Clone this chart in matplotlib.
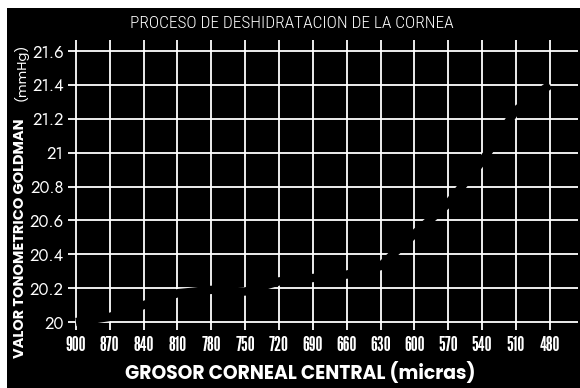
import matplotlib
matplotlib.use("Agg")
import matplotlib.pyplot as plt
from matplotlib.patches import Rectangle

# ---- data ----
grosor = [900, 870, 840, 810, 780, 750, 720, 690, 660, 630, 600, 570, 540, 510, 480]
presion = [20.0, 20.03, 20.1, 20.17, 20.19, 20.18, 20.24, 20.26, 20.28, 20.33,
           20.52, 20.7, 20.95, 21.25, 21.4]
x_ticks = [900, 870, 840, 810, 780, 750, 720, 690, 660, 630, 600, 570, 540, 510, 480]
y_ticks = [20.0, 20.2, 20.4, 20.6, 20.8, 21.0, 21.2, 21.4, 21.6]
y_tick_labels = ["20", "20.2", "20.4", "20.6", "20.8", "21", "21.2", "21.4", "21.6"]
title = "PROCESO DE DESHIDRATACION DE LA CORNEA"
xlabel = "GROSOR CORNEAL CENTRAL (micras)"
ylabel_main = "VALOR TONOMETRICO GOLDMAN"
ylabel_unit = "(mmHg)"

W, H = 580, 388
fig = plt.figure(figsize=(W / 100, H / 100), dpi=100, facecolor="black")

# white scan margins (top and left)
fig.patches.append(Rectangle((0, 1 - 8 / H), 1, 8 / H, transform=fig.transFigure,
                             facecolor="white", edgecolor="none", zorder=0))
fig.patches.append(Rectangle((0, 0), 7 / W, 1, transform=fig.transFigure,
                             facecolor="white", edgecolor="none", zorder=0))

left, right, top, bottom = 68, 578, 40, 330
ax = fig.add_axes([left / W, 1 - bottom / H, (right - left) / W, (bottom - top) / H])
ax.set_facecolor("black")
for s in ax.spines.values():
    s.set_visible(False)

ax.set_xlim(907, 455)
ax.set_ylim(19.953, 21.665)
ax.set_xticks(x_ticks)
ax.set_xticklabels([str(v) for v in x_ticks])
ax.set_yticks(y_ticks)
ax.set_yticklabels(y_tick_labels)
ax.grid(True, color="white", linewidth=1.3)
ax.set_axisbelow(True)
ax.tick_params(length=0, colors="white")

cond = ["League Gothic", "Antonio", "DejaVu Sans"]
futura = ["Jost", "DejaVu Sans"]
bold_geo = ["Poppins", "DejaVu Sans"]
thin = ["Roboto Condensed", "DejaVu Sans"]

for lab in ax.get_xticklabels():
    lab.set_family(cond)
    lab.set_fontsize(14)
    lab.set_color("white")
ax.tick_params(axis="x", pad=4)
for lab in ax.get_yticklabels():
    lab.set_family(futura)
    lab.set_fontweight("medium")
    lab.set_fontsize(12)
    lab.set_color("white")
ax.tick_params(axis="y", pad=3)

ax.plot(grosor, presion, color="black", linewidth=6, solid_capstyle="butt", zorder=3)

fig.text(292 / W, 1 - 24 / H, title, color="white", ha="center", va="center",
         family=thin, fontweight="light", fontsize=12.5)
fig.text(300 / W, 1 - 373 / H, xlabel, color="white", ha="center", va="center",
         family=bold_geo, fontweight="bold", fontsize=13.5)
fig.text(21 / W, 1 - 358 / H, ylabel_main, color="white", ha="center", va="bottom",
         rotation=90, family=bold_geo, fontweight="bold", fontsize=10.5)
fig.text(21 / W, 1 - 44 / H, ylabel_unit, color="white", ha="center", va="top",
         rotation=90, family=bold_geo, fontsize=9.5)

fig.savefig("out.png", dpi=100, facecolor=fig.get_facecolor())
